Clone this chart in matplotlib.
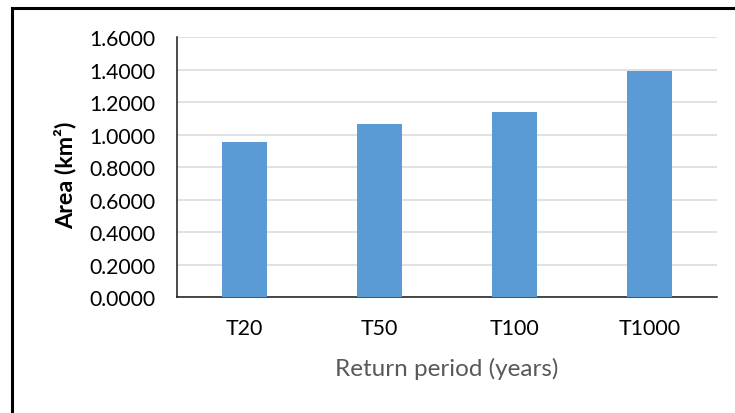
import matplotlib
matplotlib.use("Agg")
import matplotlib.pyplot as plt
from matplotlib.patches import Rectangle

# Flood-extent area per return period
periods = ["T20", "T50", "T100", "T1000"]
area_km2 = [0.953, 1.064, 1.140, 1.391]
y_ticks = [0.0, 0.2, 0.4, 0.6, 0.8, 1.0, 1.2, 1.4, 1.6]

plt.rcParams["font.family"] = ["Lato", "DejaVu Sans"]

fig = plt.figure(figsize=(7.35, 4.14), dpi=100)
ax = fig.add_axes([176.7 / 735, 1 - 298.3 / 414, 540 / 735, 260 / 414])

x = list(range(len(periods)))
ax.bar(x, area_km2, width=0.335, color="#5b9bd5", zorder=3)

ax.set_xlim(-0.5, len(periods) - 0.5)
ax.set_ylim(0, 1.6)
ax.set_yticks(y_ticks)
ax.set_yticklabels([f"{v:.4f}" for v in y_ticks])
ax.set_xticks(x)
ax.set_xticklabels(periods)

ax.grid(axis="y", color="#d9d9d9", linewidth=1.1, zorder=0)
ax.set_axisbelow(True)
for side in ("top", "right"):
    ax.spines[side].set_visible(False)
for side in ("left", "bottom"):
    ax.spines[side].set_color("#1a1a1a")
    ax.spines[side].set_linewidth(1.1)

ax.tick_params(axis="y", length=0, pad=15, labelsize=15.2, labelcolor="#000000")
ax.tick_params(axis="x", length=0, pad=15, labelsize=15.4, labelcolor="#000000")

ax.set_ylabel("Area (km²)", fontsize=16.8, fontweight="bold", va="center")
ax.yaxis.set_label_coords(-0.206, 0.474)
ax.set_xlabel("Return period (years)", fontsize=17.5, color="#595959", va="center")
ax.xaxis.set_label_coords(0.5, -0.272)

# Outer chart frame
fig.patches.append(Rectangle((12 / 735, -0.05), 1.2, 1 - 9 / 414 + 0.05,
                             transform=fig.transFigure, fill=False,
                             edgecolor="black", linewidth=2.2))

fig.savefig("out.png", dpi=100)
